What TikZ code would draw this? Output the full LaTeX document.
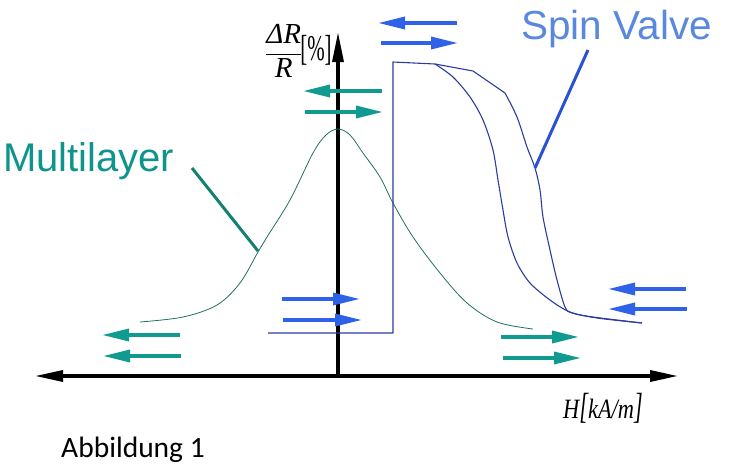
\documentclass[tikz,border=0pt]{standalone}
\usepackage{fontspec}
\setmainfont{Liberation Serif}
\newfontfamily\arialf{Liberation Sans}
\newfontfamily\calibf{Carlito}
\usetikzlibrary{arrows.meta}
\definecolor{tealA}{HTML}{109A90}
\definecolor{tealT}{HTML}{0E948B}
\definecolor{tealL}{HTML}{14806F}
\definecolor{tealC}{HTML}{1F6F66}
\definecolor{blueA}{HTML}{2F62E8}
\definecolor{blueT}{HTML}{5A88DD}
\definecolor{blueL}{HTML}{2A52D2}
\definecolor{navyC}{HTML}{2C3C9E}
\tikzset{
  axisline/.style={line width=3.3pt, black},
  marrow/.style={line width=3.5pt, -{Triangle[length=27pt,width=12pt]}},
  tarrow/.style={marrow, tealA},
  barrow/.style={marrow, blueA},
  mlcurve/.style={line width=0.8pt, tealC},
  svcurve/.style={line width=1.1pt, navyC, line join=round},
  leader/.style={line width=3pt},
}
\begin{document}
\begin{tikzpicture}[x=1pt,y=-1pt]
\useasboundingbox (0,0) rectangle (750,472);
% axes
\draw[axisline, {Triangle[length=28pt,width=11pt]}-{Triangle[length=28pt,width=11pt]}] (35,376) -- (678,376);
\draw[axisline, -{Triangle[length=30pt,width=11pt]}] (338,377) -- (338,32);
% multilayer curve
\draw[mlcurve] plot[smooth, tension=0.55] coordinates {(140,322) (183,317) (217,305) (240,283) (258,252) (267,237) (290,200) (313,153) (326,135) (338,129) (350,135) (363,153) (380,177) (393,203) (413,237) (440,273) (467,303) (497,322) (533,329)};
% spin valve curve
\draw[svcurve] (268,333) -- (393,333) -- (393,62) -- (435,64);
\draw[svcurve] plot[smooth, tension=0.5] coordinates {(435,64) (453,77) (470,97) (483,120) (493,150) (498,180) (503,210) (508,237) (517,263) (530,283) (550,300) (570,312) (597,318) (642,323)};
\draw[svcurve] (435,64) -- (473,71) -- (505,93);
\draw[svcurve] plot[smooth, tension=0.5] coordinates {(505,93) (517,117) (527,147) (535,168) (540,190) (543,217) (550,250) (557,280) (565,307) (572,313) (593,317) (642,323)};
% leaders
\coordinate (mlA) at (258,251);
\coordinate (mlB) at (192,168);
\coordinate (svA) at (535,168);
\coordinate (svB) at (588,50);
\draw[leader, tealL] (mlA) -- (mlB);
\draw[leader, blueL] (svA) -- (svB);
% labels
\node[anchor=base west, inner sep=0pt, text=tealT, font=\arialf\fontsize{40}{44}\selectfont] (ml) at (3,171) {Multilayer};
\node[anchor=base west, inner sep=0pt, text=blueT, font=\arialf\fontsize{40.5}{44}\selectfont] (sv) at (521,39) {Spin Valve};
\node[anchor=base west, inner sep=0pt, font=\calibf\fontsize{29.5}{34}\selectfont] (ab) at (61,457) {Abbildung 1};
\node[anchor=west, inner sep=0pt, font=\fontsize{29}{32}\selectfont] (ylab) at (265,51) {$\displaystyle\frac{\mbox{\itshape ΔR}}{\mbox{\itshape R}}$\hspace{-2pt}\scalebox{0.72}[1.25]{[\%]}};
\node[anchor=base west, inner sep=0pt, font=\fontsize{28}{32}\selectfont] (xlab) at (563,418) {\scalebox{0.8}[1]{\itshape H\scalebox{1}[1.3]{[}kA/m\scalebox{1}[1.3]{]}}};
% magnetisation arrows
\draw[barrow] (457,23) -- (378,23);
\draw[barrow] (381,43) -- (458,43);
\draw[tarrow] (382,91) -- (303,91);
\draw[tarrow] (305,112) -- (383,112);
\draw[barrow] (282,299) -- (360,299);
\draw[barrow] (283,320) -- (362,320);
\draw[tarrow] (180,335) -- (102,335);
\draw[tarrow] (181,356) -- (103,356);
\draw[barrow] (686,289) -- (608,289);
\draw[barrow] (687,309) -- (608,309);
\draw[tarrow] (501,337) -- (579,337);
\draw[tarrow] (503,358) -- (581,358);
\end{tikzpicture}
\end{document}
